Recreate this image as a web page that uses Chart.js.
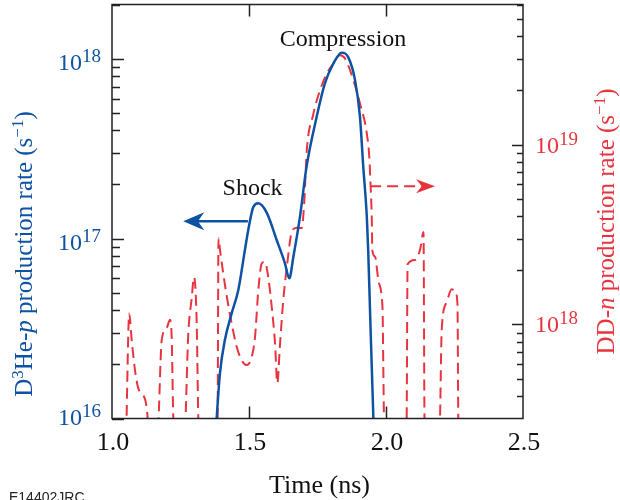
<!DOCTYPE html>
<html>
<head>
<meta charset="utf-8">
<script src="https://cdn.jsdelivr.net/npm/chart.js@4.4.1/dist/chart.umd.min.js"></script>
<style>
html,body{margin:0;padding:0;background:#fff;}
canvas{display:block;}
</style>
</head>
<body>
<canvas id="c" width="620" height="500"></canvas>
<script>
// ---- Data ----
// D3He-p production rate (left axis, s^-1)
const dhepTime = [1.376, 1.382, 1.394, 1.412, 1.437, 1.461, 1.485, 1.497, 1.516, 1.534, 1.565, 1.601, 1.631, 1.647, 1.662, 1.686, 1.710, 1.747, 1.777, 1.808, 1.838, 1.862, 1.887, 1.905, 1.917, 1.930, 1.935, 1.942, 1.954, 1.958];
const dhepRate = [7e15, 1.0e16, 1.79e16, 2.73e16, 3.85e16, 5.18e16, 8.63e16, 1.11e17, 1.50e17, 1.57e17, 1.39e17, 9.82e16, 7.31e16, 6.01e16, 7.93e16, 1.32e17, 2.51e17, 4.75e17, 7.28e17, 9.40e17, 1.08e18, 1.02e18, 7.60e17, 4.75e17, 2.51e17, 1.32e17, 8.63e16, 3.85e16, 1.0e16, 7e15];

// DD-n production rate (right axis, s^-1)
const ddnTime = [
  1.052, 1.0628, 1.0719, 1.0839, 1.096, 1.1142, 1.1241, 1.1303, 1.134,
  1.166, 1.1814, 1.1996, 1.2117, 1.2179, 1.2237, 1.227,
  1.2646, 1.2785, 1.2909, 1.2993, 1.3091, 1.315, 1.318,
  1.385, 1.3887, 1.3942, 1.406, 1.419, 1.4369, 1.455, 1.473, 1.4916, 1.510, 1.522, 1.534, 1.5464, 1.558, 1.570, 1.583, 1.595, 1.6033, 1.613, 1.625, 1.639, 1.656, 1.6741, 1.692, 1.701, 1.711, 1.734, 1.7591, 1.784, 1.808, 1.8321, 1.850, 1.881, 1.905, 1.930, 1.939, 1.944, 1.948, 1.950, 1.960, 1.972, 1.984, 1.988, 1.990, 1.9927, 1.996,
  2.0748, 2.0788, 2.1058, 2.1241, 2.1369, 2.1405, 2.144,
  2.1953, 2.2033, 2.2215, 2.2398, 2.2518, 2.2609, 2.2639, 2.267
];
const ddnRate = [
  2.5e17, 1.15e18, 8.19e17, 5.57e17, 4.41e17, 4.05e17, 3.64e17, 3.0e17, 2.5e17,
  2.5e17, 8.19e17, 9.55e17, 1.06e18, 8.40e17, 3.0e17, 2.5e17,
  2.5e17, 8.95e17, 1.40e18, 1.83e18, 1.02e18, 3.0e17, 2.5e17,
  2.5e17, 3.01e18, 2.59e18, 1.92e18, 1.43e18, 1.01e18, 7.52e17, 6.34e17, 5.94e17, 6.61e17, 8.53e17, 1.55e18, 2.18e18, 2.23e18, 1.84e18, 1.25e18, 7.85e17, 4.71e17, 7.67e17, 1.36e18, 2.14e18, 3.26e18, 3.45e18, 3.43e18, 4.60e18, 9.31e18, 1.46e19, 2.00e19, 2.48e19, 2.82e19, 3.13e19, 3.01e19, 2.28e19, 1.69e19, 1.15e19, 8.53e18, 5.82e18, 3.96e18, 2.59e18, 2.38e18, 1.76e18, 1.43e18, 1.10e18, 6.08e17, 3.0e17, 2.5e17,
  2.5e17, 2.16e18, 2.28e18, 2.59e18, 3.26e18, 3.0e17, 2.5e17,
  2.5e17, 9.31e17, 1.33e18, 1.57e18, 1.53e18, 1.30e18, 3.0e17, 2.5e17
];

// ---- Axis ranges and tick labels ----
const xTicks = [1.0, 1.5, 2.0, 2.5];
const xTickLabels = ['1.0', '1.5', '2.0', '2.5'];
const leftRange = [1e16, 2e18];
const rightRange = [3e17, 6e19];
const leftMajor = [1e16, 1e17, 1e18];
const leftMajorExp = ['16', '17', '18'];
const rightMajor = [1e18, 1e19];
const rightMajorExp = ['18', '19'];

const BLUE = '#0d52a3';
const RED = '#e8343e';
const SERIF = '"Liberation Serif", "Times New Roman", serif';

function toXY(xs, ys) { return xs.map((x, i) => ({x: x, y: ys[i]})); }

function segFont(s) { return (s.italic ? 'italic ' : '') + s.size + 'px ' + SERIF; }
function richWidth(ctx, segs) {
  let w = 0;
  for (const s of segs) { ctx.font = segFont(s); w += ctx.measureText(s.t).width; }
  return w;
}
function drawRich(ctx, segs, x, y, align) {
  const w = richWidth(ctx, segs);
  let cx = align === 'center' ? x - w / 2 : (align === 'right' ? x - w : x);
  ctx.textAlign = 'left';
  ctx.textBaseline = 'alphabetic';
  for (const s of segs) {
    ctx.font = segFont(s);
    ctx.fillText(s.t, cx, y - (s.rise || 0));
    cx += ctx.measureText(s.t).width;
  }
}
function powSegs(exp) { return [{t: '10', size: 24}, {t: exp, size: 19, rise: 8}]; }

function arrow(ctx, x1, y, x2, color, dashed, lw, headLen, headHalf) {
  const dir = Math.sign(x2 - x1);
  ctx.save();
  ctx.strokeStyle = color; ctx.fillStyle = color; ctx.lineWidth = lw;
  ctx.setLineDash(dashed ? [11, 6] : []);
  ctx.beginPath(); ctx.moveTo(x1, y); ctx.lineTo(x2 - dir * headLen * 0.7, y); ctx.stroke();
  ctx.setLineDash([]);
  ctx.beginPath();
  ctx.moveTo(x2, y);
  ctx.lineTo(x2 - dir * headLen, y - headHalf);
  ctx.lineTo(x2 - dir * headLen * 0.7, y);
  ctx.lineTo(x2 - dir * headLen, y + headHalf);
  ctx.closePath(); ctx.fill();
  ctx.restore();
}

const decor = {
  id: 'decor',
  afterDatasetsDraw(chart) {
    const ctx = chart.ctx;
    const a = chart.chartArea;
    const xs = chart.scales.x, yl = chart.scales.yL, yr = chart.scales.yR;
    ctx.save();
    // frame
    ctx.strokeStyle = '#222'; ctx.lineWidth = 1.5;
    ctx.strokeRect(a.left, a.top, a.right - a.left, a.bottom - a.top);
    // x ticks (inside, top and bottom)
    ctx.beginPath();
    for (const t of xTicks) {
      const px = Math.round(xs.getPixelForValue(t)) + 0.5;
      if (px <= a.left + 2 || px >= a.right - 2) continue;
      ctx.moveTo(px, a.bottom); ctx.lineTo(px, a.bottom - 12);
      ctx.moveTo(px, a.top); ctx.lineTo(px, a.top + 12);
    }
    // left axis ticks
    for (let e = 16; e <= 18; e++) {
      for (let m = 1; m <= 9; m++) {
        const v = m * Math.pow(10, e);
        if (v < leftRange[0] || v > leftRange[1]) continue;
        const py = Math.round(yl.getPixelForValue(v)) + 0.5;
        const len = m === 1 ? 12 : 8;
        ctx.moveTo(a.left, py); ctx.lineTo(a.left + len, py);
      }
    }
    // right axis ticks
    for (let e = 17; e <= 19; e++) {
      for (let m = 1; m <= 9; m++) {
        const v = m * Math.pow(10, e);
        if (v <= rightRange[0] || v > rightRange[1]) continue;
        const py = Math.round(yr.getPixelForValue(v)) + 0.5;
        const len = m === 1 ? 11 : 6;
        ctx.moveTo(a.right, py); ctx.lineTo(a.right - len, py);
      }
    }
    ctx.stroke();

    // x tick labels
    ctx.fillStyle = '#111';
    ctx.font = '26px ' + SERIF; ctx.textAlign = 'center'; ctx.textBaseline = 'alphabetic';
    xTicks.forEach((t, i) => ctx.fillText(xTickLabels[i], xs.getPixelForValue(t) + 1, 450));
    // x title
    ctx.font = '26px ' + SERIF;
    ctx.fillText('Time (ns)', (a.left + a.right) / 2 + 2, 493);

    // left tick labels
    ctx.fillStyle = BLUE;
    leftMajor.forEach((v, i) => {
      const py = yl.getPixelForValue(v);
      drawRich(ctx, powSegs(leftMajorExp[i]), 101, Math.min(py + 11.5, 425), 'right');
    });
    // right tick labels
    ctx.fillStyle = RED;
    rightMajor.forEach((v, i) => {
      const py = yr.getPixelForValue(v);
      drawRich(ctx, powSegs(rightMajorExp[i]), 535, py + 8, 'left');
    });

    // left axis title
    ctx.save();
    ctx.fillStyle = BLUE;
    ctx.translate(32, 254); ctx.rotate(-Math.PI / 2);
    drawRich(ctx, [
      {t: 'D', size: 25}, {t: '3', size: 17, rise: 9}, {t: 'He-', size: 25}, {t: 'p', size: 25, italic: true},
      {t: ' production rate (s', size: 25}, {t: '\u22121', size: 17, rise: 9}, {t: ')', size: 25}
    ], 0, 0, 'center');
    ctx.restore();
    // right axis title
    ctx.save();
    ctx.fillStyle = RED;
    ctx.translate(614, 221.5); ctx.rotate(-Math.PI / 2);
    drawRich(ctx, [
      {t: 'DD-', size: 25}, {t: 'n', size: 25, italic: true},
      {t: ' production rate (s', size: 25}, {t: '\u22121', size: 17, rise: 9}, {t: ')', size: 25}
    ], 0, 0, 'center');
    ctx.restore();

    // annotations
    ctx.fillStyle = '#111';
    ctx.font = '24px ' + SERIF; ctx.textAlign = 'center'; ctx.textBaseline = 'alphabetic';
    ctx.fillText('Compression', xs.getPixelForValue(1.843), yl.getPixelForValue(1.17e18) + 0);
    ctx.fillText('Shock', xs.getPixelForValue(1.513), yl.getPixelForValue(1.75e17));
    // arrows
    arrow(ctx, xs.getPixelForValue(1.496), yl.getPixelForValue(1.25e17), xs.getPixelForValue(1.260), BLUE, false, 2.5, 21, 9);
    arrow(ctx, xs.getPixelForValue(1.942), yr.getPixelForValue(5.87e18), xs.getPixelForValue(2.179), RED, true, 2, 19, 7);

    // figure id
    ctx.fillStyle = '#222';
    ctx.font = '14px "Liberation Sans", Arial, sans-serif'; ctx.textAlign = 'left';
    ctx.fillText('E14402JRC', 9, 502);
    ctx.restore();
  }
};

new Chart(document.getElementById('c'), {
  type: 'line',
  data: {
    datasets: [
      {
        label: 'D3He-p',
        data: toXY(dhepTime, dhepRate),
        yAxisID: 'yL',
        borderColor: BLUE,
        borderWidth: 2.5,
        pointRadius: 0,
        fill: false,
        cubicInterpolationMode: 'monotone'
      },
      {
        label: 'DD-n',
        data: toXY(ddnTime, ddnRate),
        yAxisID: 'yR',
        borderColor: RED,
        borderWidth: 2,
        borderDash: [11, 6],
        pointRadius: 0,
        fill: false,
        cubicInterpolationMode: 'monotone'
      }
    ]
  },
  options: {
    responsive: false,
    animation: false,
    devicePixelRatio: 1,
    layout: {padding: {left: 112, right: 97, top: 4.5, bottom: 81.5}},
    scales: {
      x: {type: 'linear', min: 1.0, max: 2.5, display: false},
      yL: {type: 'logarithmic', position: 'left', min: leftRange[0], max: leftRange[1], display: false},
      yR: {type: 'logarithmic', position: 'right', min: rightRange[0], max: rightRange[1], display: false}
    },
    plugins: {legend: {display: false}, tooltip: {enabled: false}}
  },
  plugins: [decor]
});
</script>
</body>
</html>
